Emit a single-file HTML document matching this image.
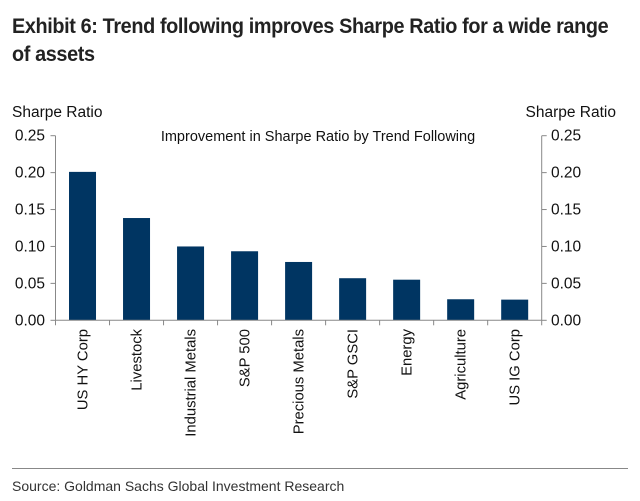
<!DOCTYPE html>
<html><head><meta charset="utf-8"><style>
body{margin:0;background:#fff;font-family:"Liberation Sans",Arial,sans-serif;}
#wrap{position:relative;width:640px;height:501px;overflow:hidden;}
.title{position:absolute;left:12px;top:13px;font-weight:bold;font-size:21px;line-height:28px;color:#222;letter-spacing:-0.4px;transform:scaleX(0.945);transform-origin:left;width:690px;}
.src{position:absolute;left:12px;top:478px;font-size:14px;color:#333;transform:scaleX(1.0);transform-origin:left;white-space:nowrap;}
.rule{position:absolute;left:12px;width:616px;top:468px;height:1px;background:#888;}
</style></head><body>
<div id="wrap">
<div class="title">Exhibit 6: Trend following improves Sharpe Ratio for a wide range<br>of assets</div>
<svg id="chart" width="640" height="501" style="position:absolute;left:0;top:0"></svg>
<div class="rule"></div>
<div class="src">Source: Goldman Sachs Global Investment Research</div>
</div>
<script>
const categories=["US HY Corp","Livestock","Industrial Metals","S&P 500","Precious Metals","S&P GSCI","Energy","Agriculture","US IG Corp"];
const values=[0.201,0.1385,0.100,0.0935,0.079,0.057,0.055,0.0285,0.028];
const ticks=[0,0.05,0.10,0.15,0.20,0.25];
const tickLabels=["0.00","0.05","0.10","0.15","0.20","0.25"];
const NS="http://www.w3.org/2000/svg";
const svg=document.getElementById('chart');
const L=55.5,R=541.7,T=135.7,B=320.3,maxV=0.25;
const y=v=>B-(v/maxV)*(B-T);
const bw=(R-L)/categories.length;
const x=i=>L+i*bw;
function mk(t,a){const e=document.createElementNS(NS,t);for(const k in a)e.setAttribute(k,a[k]);svg.appendChild(e);return e;}
function txt(s,a){const e=mk('text',Object.assign({'font-family':'Liberation Sans, Arial, sans-serif','font-size':'14.8',fill:'#111'},a));e.textContent=s;return e;}
let e;
e=txt("Sharpe Ratio",{x:12,y:117,'font-size':'15.5'});


e=txt("Sharpe Ratio",{x:616,y:117,'text-anchor':'end','font-size':'15.5'});


e=txt("Improvement in Sharpe Ratio by Trend Following",{x:318,y:141,'text-anchor':'middle','font-size':'14.5'});


categories.forEach((c,i)=>{
  const cx=x(i)+bw/2;
  e=mk('rect',{x:cx-13.5,y:y(values[i]),width:27,height:B-y(values[i]),fill:'#003562'});
  
  
  e=txt(c,{x:0,y:0,'text-anchor':'end',transform:`translate(${cx+5},329) rotate(-90)`});
  
  
});
for(let i=0;i<=categories.length;i++){
  e=mk('line',{x1:x(i),x2:x(i),y1:B,y2:B+5,stroke:'#888'});
  
  
}
e=mk('line',{x1:L,x2:R,y1:B,y2:B,stroke:'#888'});


e=mk('line',{x1:L,x2:L,y1:T,y2:B,stroke:'#888'});


e=mk('line',{x1:R,x2:R,y1:T,y2:B,stroke:'#888'});


ticks.forEach((t,i)=>{
  const yy=y(t);
  mk('line',{x1:L-5,x2:L,y1:yy,y2:yy,stroke:'#888'});
  mk('line',{x1:R,x2:R+5,y1:yy,y2:yy,stroke:'#888'});
  e=txt(tickLabels[i],{x:45,y:yy+5,'text-anchor':'end','font-size':'15.5'});
  
  
  e=txt(tickLabels[i],{x:551,y:yy+5,'font-size':'15.5'});
  
  
});
</script>
</body></html>
